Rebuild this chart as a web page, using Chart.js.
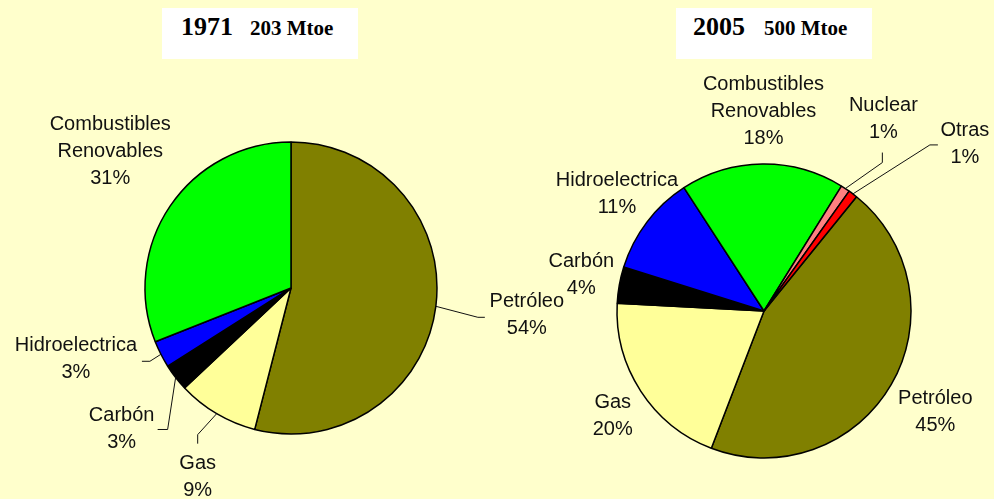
<!DOCTYPE html>
<html>
<head>
<meta charset="utf-8">
<script src="https://cdn.jsdelivr.net/npm/chart.js@4.4.0/dist/chart.umd.min.js"></script>
<style>
  body { margin: 0; background: #FFFFCC; }
  #wrap { position: relative; width: 994px; height: 499px; background: #FFFFCC; overflow: hidden; }
  canvas { position: absolute; top: 0; left: 0; }
  .tbox { position: absolute; top: 8px; width: 196px; height: 51px; background: #fff; font-family: "Liberation Serif", "Times New Roman", serif; font-weight: bold; color: #000; }
  .tbox span { position: absolute; white-space: nowrap; line-height: normal; }
  .big { font-size: 26px; top: 4px; }
  .small { font-size: 21px; top: 8px; }
</style>
</head>
<body>
<div id="wrap">
  <canvas id="pie1971" width="994" height="499"></canvas>
  <canvas id="pie2005" width="994" height="499"></canvas>
  <div class="tbox" style="left:162px"><span class="big" style="left:19px">1971</span><span class="small" style="left:88px">203 Mtoe</span></div>
  <div class="tbox" style="left:676px"><span class="big" style="left:17px">2005</span><span class="small" style="left:88px">500 Mtoe</span></div>
</div>
<script>
// datos
const categories1971 = ['Petróleo', 'Gas', 'Carbón', 'Hidroelectrica', ['Combustibles', 'Renovables']];
const values1971 = [54, 9, 3, 3, 31];
const categories2005 = ['Petróleo', 'Gas', 'Carbón', 'Hidroelectrica', ['Combustibles', 'Renovables'], 'Nuclear', 'Otras'];
const values2005 = [45, 20, 4, 11, 18, 1, 1];

const colors1971 = ['#808000', '#FFFF99', '#000000', '#0000FF', '#00FF00'];
const colors2005 = ['#808000', '#FFFF99', '#000000', '#0000FF', '#00FF00', '#FF8080', '#FF0000'];

// label placement relative to the arc's outer edge (style only)
const place1971 = [
  { dx: 91, dy: 9, leader: [[42, 11], [49, 11]] },
  { dx: -19, dy: 63, leader: [[-19, 21], [-19, 30]] },
  { dx: -54, dy: 51, leader: [[-8, 52], [-18, 52]] },
  { dx: -85, dy: 5, leader: [[-11, 7], [-19, 7]] },
  { dx: -60, dy: -54 }
];
const place2005 = [
  { dx: 44, dy: 27 },
  { dx: -28, dy: 25 },
  { dx: -38, dy: -10 },
  { dx: -30, dy: -28 },
  { dx: 1, dy: -53 },
  { dx: 38, dy: -70, leader: [[37, -26], [37, -36]] },
  { dx: 112, dy: -50, leader: [[77, -49], [85, -49]] }
];

const pieLabels = {
  id: 'pieLabels',
  afterDatasetsDraw(chart, args, opts) {
    const ctx = chart.ctx;
    const meta = chart.getDatasetMeta(0);
    const vals = chart.data.datasets[0].data;
    ctx.save();
    meta.data.forEach(function (arc, i) {
      const p = arc.getProps(['x', 'y', 'startAngle', 'endAngle', 'outerRadius'], true);
      const mid = (p.startAngle + p.endAngle) / 2;
      const ex = p.x + Math.cos(mid) * p.outerRadius;
      const ey = p.y + Math.sin(mid) * p.outerRadius;
      const pl = opts.place[i];
      if (pl.leader) {
        ctx.beginPath();
        ctx.moveTo(ex, ey);
        pl.leader.forEach(function (q) { ctx.lineTo(ex + q[0], ey + q[1]); });
        ctx.strokeStyle = '#111';
        ctx.lineWidth = 1;
        ctx.stroke();
      }
      const lines = [].concat(chart.data.labels[i], vals[i] + '%');
      const lh = 27;
      ctx.fillStyle = '#111';
      ctx.font = '20px "Liberation Sans", Arial, sans-serif';
      ctx.textAlign = 'center';
      ctx.textBaseline = 'middle';
      const cx = ex + pl.dx;
      const cy = ey + pl.dy - (lines.length - 1) * lh / 2;
      lines.forEach(function (t, k) { ctx.fillText(t, cx, cy + k * lh); });
    });
    ctx.restore();
  }
};

function makePie(id, labels, data, colors, rotation, radius, padding, place) {
  return new Chart(document.getElementById(id), {
    type: 'pie',
    data: {
      labels: labels,
      datasets: [{
        data: data,
        backgroundColor: colors,
        borderColor: '#000',
        borderWidth: 1.5,
        radius: radius
      }]
    },
    options: {
      responsive: false,
      animation: false,
      devicePixelRatio: 1,
      rotation: rotation,
      layout: { padding: padding },
      plugins: {
        legend: { display: false },
        tooltip: { enabled: false },
        pieLabels: { place: place }
      }
    },
    plugins: [pieLabels]
  });
}

makePie('pie1971', categories1971, values1971, colors1971, 0, 146, { left: 0, top: 77, right: 412, bottom: 0 }, place1971);
makePie('pie2005', categories2005, values2005, colors2005, 39, 147, { left: 534, top: 123, right: 0, bottom: 0 }, place2005);
</script>
</body>
</html>
